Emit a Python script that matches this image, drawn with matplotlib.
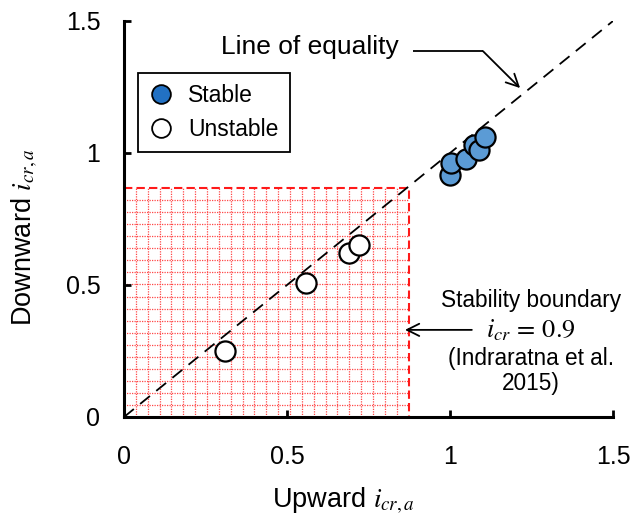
import numpy as np
import matplotlib
matplotlib.use("Agg")
import matplotlib.pyplot as plt
from matplotlib.lines import Line2D

plt.rcParams['font.family'] = ['Liberation Sans', 'DejaVu Sans']
plt.rcParams['mathtext.fontset'] = 'stix'

# Upward vs downward critical hydraulic gradient
stable_up = [1.00, 1.003, 1.049, 1.074, 1.090, 1.108]
stable_down = [0.917, 0.962, 0.977, 1.030, 1.010, 1.060]
unstable_up = [0.309, 0.559, 0.691, 0.722]
unstable_down = [0.250, 0.508, 0.620, 0.651]

boundary_x = 0.873
boundary_y = 0.867
equality = [0, 1.5]
ticks = [0, 0.5, 1, 1.5]
tick_labels = ['0', '0.5', '1', '1.5']

fig = plt.figure(figsize=(6.41, 5.21), dpi=100)
ax = fig.add_axes([124/641, 1 - 417/521, 489/641, 396/521])
ax.set_xlim(0, 1.5)
ax.set_ylim(0, 1.5)

# red dotted grid filling the unstable zone
grid_red = '#ff4848'
for gx in np.linspace(0, boundary_x, 25)[1:-1]:
    ax.plot([gx, gx], [0, boundary_y], color=grid_red, lw=0.9,
            ls=(0, (1, 1)), zorder=1)
for gy in np.linspace(0, boundary_y, 20)[1:-1]:
    ax.plot([0, boundary_x], [gy, gy], color=grid_red, lw=0.9,
            ls=(0, (1, 1)), zorder=1)
ax.plot([0, boundary_x, boundary_x], [boundary_y, boundary_y, 0],
        color='#ff1a1a', lw=1.5, ls=(0, (4, 2)), zorder=2)

# line of equality
ax.plot(equality, equality, color='black', lw=1.3, ls=(0, (7, 4.5)), zorder=3)

ax.scatter(unstable_up, unstable_down, s=210, facecolor='white',
           edgecolor='black', linewidth=1.6, zorder=4)
ax.scatter(stable_up, stable_down, s=210, facecolor='#5b9bd5',
           edgecolor='black', linewidth=1.6, zorder=5)

for side in ['top', 'right']:
    ax.spines[side].set_visible(False)
for side in ['left', 'bottom']:
    ax.spines[side].set_linewidth(2.2)
    ax.spines[side].set_zorder(6)

ax.set_xticks(ticks)
ax.set_xticklabels(tick_labels)
ax.set_yticks(ticks)
ax.set_yticklabels(tick_labels)
ax.tick_params(axis='both', direction='in', length=5, width=2, labelsize=18)
ax.tick_params(axis='x', pad=20)
ax.tick_params(axis='y', pad=17)

fig.text(343/641, 1 - 501/521, r'Upward $i_{cr,a}$', ha='center', va='center',
         fontsize=19.5)
fig.text(25/641, 1 - 237/521, r'Downward $i_{cr,a}$', ha='center', va='center',
         fontsize=19.5, rotation=90)

# line of equality callout
ax.text(0.2975, 1.40, 'Line of equality', ha='left', va='center', fontsize=19)
ax.plot([0.887, 1.101], [1.386, 1.386], color='black', lw=1.3,
        solid_capstyle='butt')
ax.annotate('', xy=(1.215, 1.246), xytext=(1.101, 1.386),
            arrowprops=dict(arrowstyle='->', color='black', lw=1.3,
                            mutation_scale=22, shrinkA=0, shrinkB=0))

# stability boundary callout
ax.annotate('', xy=(0.862, 0.33), xytext=(1.067, 0.33),
            arrowprops=dict(arrowstyle='->', color='black', lw=1.3,
                            mutation_scale=22, shrinkA=0, shrinkB=0))
cx = 1.248
ax.text(cx, 0.443, 'Stability boundary', ha='center', va='center',
        fontsize=16.3)
ax.text(cx, 0.33, r'$i_{cr}\,=\,0.9$', ha='center', va='center',
        fontsize=19)
ax.text(cx, 0.222, '(Indraratna et al.', ha='center', va='center',
        fontsize=16.3)
ax.text(cx, 0.127, '2015)', ha='center', va='center', fontsize=16.3)

handles = [
    Line2D([], [], ls='none', marker='o', markersize=13.5,
           markerfacecolor='#2271c3', markeredgecolor='black',
           markeredgewidth=1.3, label='Stable'),
    Line2D([], [], ls='none', marker='o', markersize=13.5,
           markerfacecolor='white', markeredgecolor='black',
           markeredgewidth=1.3, label='Unstable'),
]
leg = ax.legend(handles=handles, loc='upper left',
                bbox_to_anchor=(0.028, 0.869), fontsize=16.5, frameon=True,
                fancybox=False, edgecolor='black', framealpha=1,
                handletextpad=0.7, borderpad=0.5, labelspacing=0.45,
                handlelength=1.0, borderaxespad=0)
leg.get_frame().set_linewidth(1.3)

fig.savefig('out.png', dpi=100)
